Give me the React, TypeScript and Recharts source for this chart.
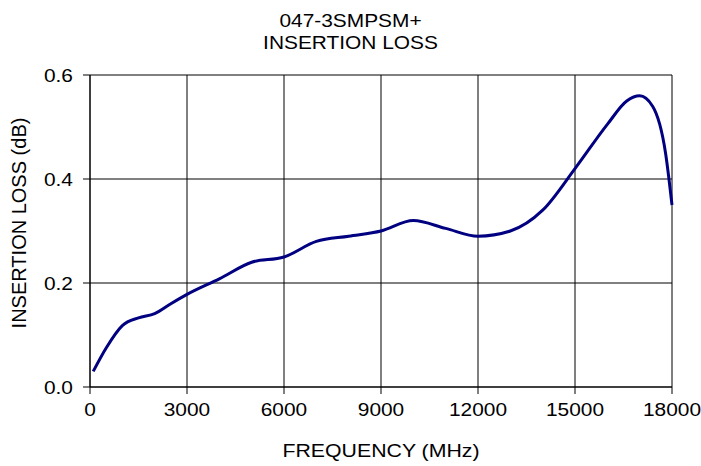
import { LineChart, Line, XAxis, YAxis, CartesianGrid } from 'recharts'

const FREQ_MHZ = [100, 500, 1000, 1500, 2000, 2500, 3000, 4000, 5000, 6000, 7000, 8000, 9000, 10000, 11000, 12000, 13000, 14000, 15000, 16000, 16600, 17000, 17400, 17800, 18000]
const LOSS_DB = [0.03, 0.075, 0.118, 0.133, 0.141, 0.16, 0.178, 0.208, 0.24, 0.25, 0.28, 0.29, 0.30, 0.32, 0.305, 0.29, 0.30, 0.34, 0.42, 0.505, 0.55, 0.56, 0.54, 0.45, 0.35]

const X_TICKS = [0, 3000, 6000, 9000, 12000, 15000, 18000]
const Y_TICKS = [0, 0.2, 0.4, 0.6]

const data = FREQ_MHZ.map((f, i) => ({ freq: f, loss: LOSS_DB[i] }))

const FONT = '"Liberation Sans", Arial, sans-serif'
const FS = 18.5
const SX = 1.13 // reference text is a bit wider than plain Arial

function XTick({ x, y, payload }: any) {
  return (
    <text
      x={x}
      y={y}
      dy="0.71em"
      textAnchor="middle"
      fill="#000"
      fontSize={FS}
      fontFamily={FONT}
      transform={`translate(${x},0) scale(${SX},1) translate(${-x},0)`}
    >
      {payload.value}
    </text>
  )
}

function YTick({ x, y, payload }: any) {
  return (
    <text
      x={x}
      y={y}
      dy="0.355em"
      textAnchor="end"
      fill="#000"
      fontSize={FS}
      fontFamily={FONT}
      transform={`translate(${x},0) scale(${SX},1) translate(${-x},0)`}
    >
      {Number(payload.value).toFixed(1)}
    </text>
  )
}

export default function App() {
  return (
    <div style={{ position: 'absolute', left: 0, top: 0, width: 701, height: 466, background: '#fff', fontFamily: FONT, color: '#000' }}>
      <div style={{ position: 'absolute', left: 0, top: 10, width: 701, textAlign: 'center', fontSize: 18, lineHeight: '22px', transform: `scaleX(${1.16})` }}>
        <div>047-3SMPSM+</div>
        <div>INSERTION LOSS</div>
      </div>
      <LineChart width={701} height={466} data={data} margin={{ top: 75, right: 29, bottom: 0, left: 0 }}>
        <CartesianGrid stroke="#000" strokeWidth={1} horizontalValues={Y_TICKS} verticalValues={X_TICKS} />
        <XAxis
          dataKey="freq"
          type="number"
          domain={[0, 18000]}
          ticks={X_TICKS}
          interval={0}
          height={79}
          tickSize={7}
          tickMargin={9}
          axisLine={{ stroke: '#000' }}
          tickLine={{ stroke: '#000' }}
          tick={<XTick />}
        />
        <YAxis
          type="number"
          domain={[0, 0.6]}
          ticks={Y_TICKS}
          interval={0}
          width={90}
          tickSize={7}
          tickMargin={10}
          axisLine={{ stroke: '#000' }}
          tickLine={{ stroke: '#000' }}
          tick={<YTick />}
        />
        <Line
          type="monotone"
          dataKey="loss"
          stroke="#000080"
          strokeWidth={3}
          dot={false}
          isAnimationActive={false}
        />
      </LineChart>
      <div style={{ position: 'absolute', left: 90, top: 439, width: 582, textAlign: 'center', fontSize: FS, lineHeight: '24px', transform: `scaleX(${1.15})` }}>
        FREQUENCY (MHz)
      </div>
      <div style={{ position: 'absolute', left: 19 - 150, top: 223 - 12, width: 300, textAlign: 'center', fontSize: 20, lineHeight: '24px', transform: 'rotate(-90deg)' }}>
        INSERTION LOSS (dB)
      </div>
    </div>
  )
}
